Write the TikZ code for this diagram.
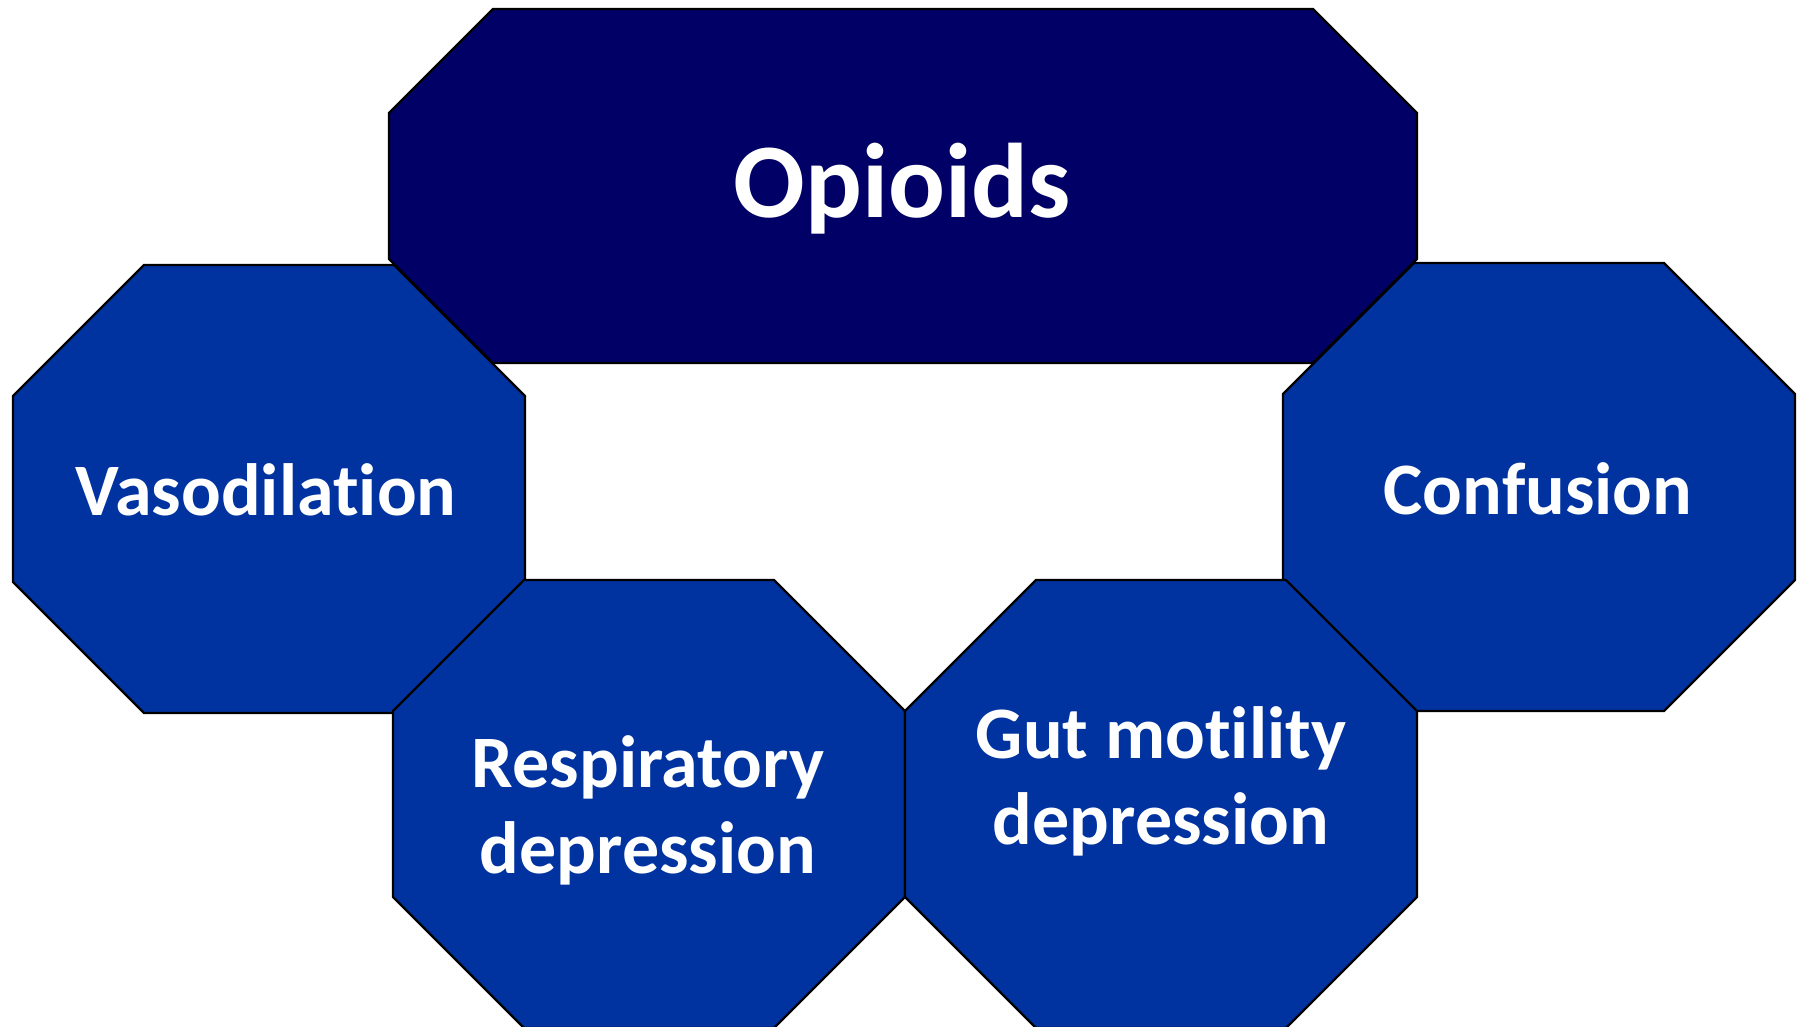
\documentclass[tikz,border=0pt]{standalone}
\usepackage{fontspec}
\setmainfont[Ligatures=NoCommon]{Carlito}
\definecolor{darknavy}{RGB}{0,0,102}
\definecolor{midblue}{RGB}{0,51,160}
\tikzset{
  octa/.style={draw=black, line width=1.2pt, line join=miter},
  toplabel/.style={text=white, font=\fontsize{53}{62}\selectfont\bfseries, inner sep=0pt},
  sidelabel/.style={text=white, font=\fontsize{37}{43}\selectfont\bfseries, inner sep=0pt, align=center},
}
\begin{document}
\begin{tikzpicture}[x=0.5pt,y=-0.5pt]
\useasboundingbox (0,0) rectangle (1805,1027);
% Opioids
\draw[octa, fill=darknavy] (493,9) -- (1313,9) -- (1417,113) -- (1417,259) -- (1313,363) -- (493,363) -- (389,259) -- (389,113) -- cycle;
% Vasodilation
\draw[octa, fill=midblue] (144,265) -- (394,265) -- (525,396) -- (525,582) -- (394,713) -- (144,713) -- (13,582) -- (13,396) -- cycle;
% Confusion
\draw[octa, fill=midblue] (1414,263) -- (1664,263) -- (1795,394) -- (1795,580) -- (1664,711) -- (1414,711) -- (1283,580) -- (1283,394) -- cycle;
% Respiratory depression
\draw[octa, fill=midblue] (524,580) -- (774,580) -- (905,711) -- (905,897) -- (774,1028) -- (524,1028) -- (393,897) -- (393,711) -- cycle;
% Gut motility depression
\draw[octa, fill=midblue] (1036,580) -- (1286,580) -- (1417,711) -- (1417,897) -- (1286,1028) -- (1036,1028) -- (905,897) -- (905,711) -- cycle;

\node[toplabel, anchor=base] (opioids) at (902,218) {Opioids};
\node[sidelabel, anchor=base] (vaso) at (266,515) {Vasodilation};
\node[sidelabel, anchor=base] (conf) at (1538,514) {Confusion};
\node[sidelabel] (resp) at (648,810) {Respiratory\\depression};
\node[sidelabel] (gut) at (1161,781) {Gut motility\\depression};
\end{tikzpicture}
\end{document}
